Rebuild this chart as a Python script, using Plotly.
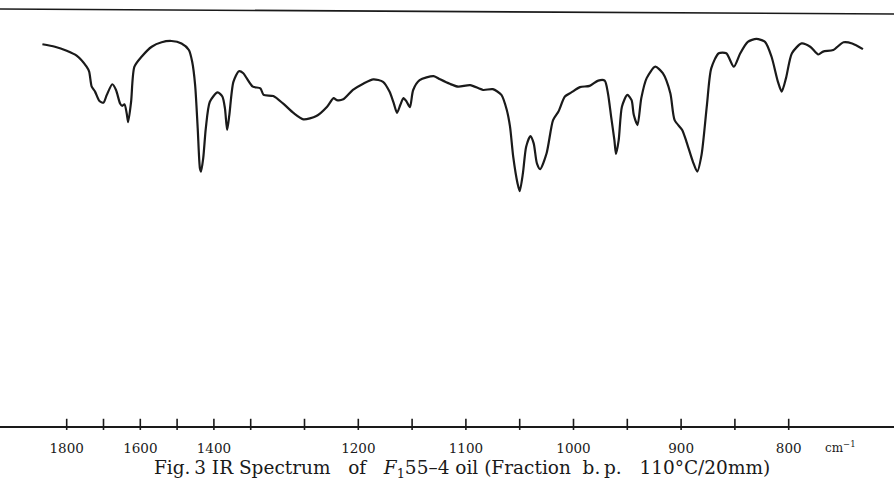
import plotly.graph_objects as go

# ---- data (wavenumber cm^-1, transmittance-like units) ----
wavenumber = [1866,1832,1800,1773,1746,1739,1732,1723,1711,1700,1691,1676,1666,1655,1649,1643,1637,1633,1625,1616,
              1596,1569,1542,1515,1488,1468,1459,1451,1444,1438,1435,1429,1422,1411,1390,1377,1370,1364,1358,1347,
              1332,1320,1311,1298,1291,1288,1279,1270,1260,1251,1239,1229,1223,1220,1214,1205,1195,1186,1177,1171,
              1167,1164,1161,1158,1155,1152,1149,1143,1130,1124,1115,1107,1096,1084,1075,1067,1062,1059,1056,1052,
              1050,1047,1044,1040,1037,1034,1031,1025,1019,1014,1008,1002,994,985,977,971,968,965,962,960.5,
              958,955,950,946,944,940.5,937,932,924,917,910,906,899,895,889,885,881,876,872,865,
              858,851,845,838,830,822,816,810,806.5,802.5,797,788,780,772.5,768,758.6,749,741,731]
transmittance = [91.6,91.0,90.0,88.8,86.1,84.9,81.2,80.0,77.7,77.3,79.2,81.8,80.4,77.1,76.5,76.9,74.7,72.5,77.5,86.1,
                 88.6,91.0,92.1,92.4,91.8,90.2,87.3,81.6,71.0,61.2,60.4,63.7,71.0,77.5,79.8,78.8,75.9,70.6,74.3,82.4,
                 85.0,84.5,83.3,81.2,80.8,79.2,78.9,77.1,74.7,73.2,74.0,76.3,78.4,77.9,78.1,80.4,82.0,83.0,82.4,80.0,
                 77.1,74.8,76.7,78.4,77.5,76.2,80.4,82.8,83.8,83.0,81.9,81.2,81.6,80.4,80.6,79.2,75.5,71.4,64.0,57.5,
                 55.6,60.0,66.5,69.1,67.3,62.4,61.0,64.9,73.0,75.1,78.8,79.8,81.1,81.4,82.7,82.7,79.6,73.8,68.1,64.7,
                 68.1,76.3,79.2,77.9,74.3,71.8,78.4,83.3,86.1,84.5,79.6,73.0,70.6,67.7,62.8,60.4,64.5,76.7,85.7,89.4,
                 89.4,86.1,89.4,92.2,92.9,92.2,88.6,82.4,80.0,83.3,89.4,91.8,91.0,89.1,89.8,90.2,92.1,91.8,90.4]
assert len(wavenumber) == len(transmittance)

tick_all = [1800,1700,1600,1500,1400,1300,1250,1200,1150,1100,1050,1000,950,900,850,800]
tick_labeled = [1800,1600,1400,1200,1100,1000,900,800]
tick_labels = ["1800","1600","1400","1200","1100","1000","900","800"]

# ---- chart-paper scale: compressed above 1300 cm^-1, expanded below ----
BREAK = 1300.0
BREAK_POS = 250.7
SLOPE_HIGH = 0.368
SLOPE_LOW = 1.076

def to_axis(nu):
    if nu >= BREAK:
        return BREAK_POS - (nu - BREAK) * SLOPE_HIGH
    return BREAK_POS + (BREAK - nu) * SLOPE_LOW

W, H = 894, 485
AXIS_PIX = 426
Y_LO, Y_HI = -1.96, 102.45
INK = "#1a1a1a"
SERIF = "DejaVu Serif"
SP = "\u00a0"

caption = ("Fig.\u20093" + SP + "IR" + SP + "Spectrum" + SP * 3 + "of" + SP * 3 +
           "<i>F</i><sub>1</sub>55–4" + SP + "oil" + SP + "(Fraction" + SP * 2 + "b.\u2009p." + SP * 3 +
           "110°C/20mm)")

fig = go.Figure()
fig.add_trace(go.Scatter(
    x=[to_axis(v) for v in wavenumber], y=transmittance, mode="lines",
    line=dict(color=INK, width=2.2, shape="spline", smoothing=0.7),
    hoverinfo="skip", showlegend=False))

fig.add_trace(go.Scatter(
    x=[to_axis(v) for v in tick_all], y=[Y_LO + 0.4] * len(tick_all), mode="markers",
    marker=dict(symbol="line-ns", size=8, line=dict(color=INK, width=1.6)),
    cliponaxis=False, hoverinfo="skip", showlegend=False))

fig.update_layout(
    width=W, height=H,
    margin=dict(l=0, r=0, t=0, b=H - AXIS_PIX),
    paper_bgcolor="white", plot_bgcolor="white",
    xaxis=dict(range=[0, W], showgrid=False, zeroline=False,
               showline=True, linecolor=INK, linewidth=1.5,
               tickvals=[to_axis(v) for v in tick_labeled], ticktext=tick_labels,
               ticks="outside", ticklen=9, tickcolor="rgba(0,0,0,0)",
               tickfont=dict(family=SERIF, size=13.5, color=INK)),
    yaxis=dict(range=[Y_LO, Y_HI], visible=False),
    shapes=[dict(type="line", xref="paper", yref="paper",
                 x0=0, x1=1, y0=(AXIS_PIX - 9) / AXIS_PIX, y1=(AXIS_PIX - 14) / AXIS_PIX,
                 line=dict(color=INK, width=1.6))],
    annotations=[
        dict(text="cm<sup>−1</sup>", xref="x", yref="paper", x=840, y=-(447 - AXIS_PIX) / AXIS_PIX,
             showarrow=False, xanchor="center", yanchor="middle",
             font=dict(family=SERIF, size=12, color=INK)),
        dict(text=caption,
             xref="paper", yref="paper", x=462 / W, y=-(469 - AXIS_PIX) / AXIS_PIX,
             showarrow=False, xanchor="center", yanchor="middle",
             font=dict(family=SERIF, size=18.5, color=INK)),
    ],
)

fig.write_html("out.html")
